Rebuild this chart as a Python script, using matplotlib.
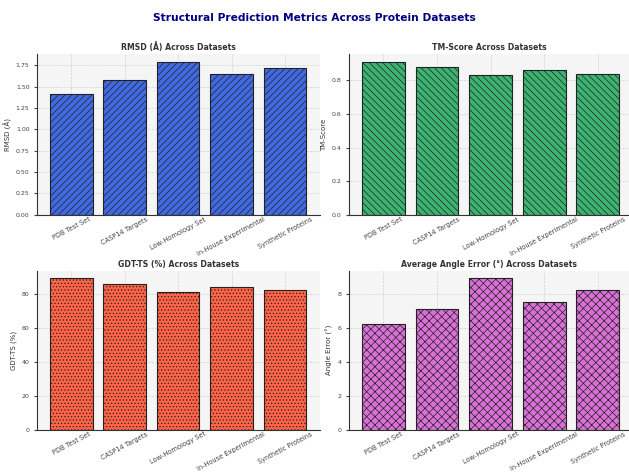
import numpy as np
import matplotlib
matplotlib.use("Agg")
import matplotlib.pyplot as plt

datasets = ["PDB Test Set", "CASP14 Targets", "Low-Homology Set",
            "In-House Experimental", "Synthetic Proteins"]
rmsd = [1.42, 1.58, 1.79, 1.65, 1.72]
tm_score = [0.91, 0.88, 0.83, 0.86, 0.84]
gdt_ts = [89.2, 85.7, 81.5, 84.0, 82.5]
angle_err = [6.2, 7.1, 8.9, 7.5, 8.2]

panels = [
    (rmsd, "RMSD (Å) Across Datasets", "RMSD (Å)", "royalblue", "/////"),
    (tm_score, "TM-Score Across Datasets", "TM-Score", "mediumseagreen", "\\\\\\\\\\"),
    (gdt_ts, "GDT-TS (%) Across Datasets", "GDT-TS (%)", "tomato", "....."),
    (angle_err, "Average Angle Error (°) Across Datasets", "Angle Error (°)", "orchid", "xxxx"),
]

# axes boxes [left, bottom, width, height] in figure fractions
boxes = [
    [0.059, 0.545, 0.450, 0.340],
    [0.555, 0.545, 0.445, 0.340],
    [0.059, 0.090, 0.450, 0.336],
    [0.555, 0.090, 0.445, 0.336],
]

plt.rcParams["hatch.linewidth"] = 0.5
fig = plt.figure(figsize=(6.29, 4.72), dpi=100)
fig.suptitle("Structural Prediction Metrics Across Protein Datasets",
             fontsize=7.7, fontweight="bold", color="navy", y=0.972)

x = np.arange(len(datasets))
for box, (vals, title, ylabel, color, hatch) in zip(boxes, panels):
    ax = fig.add_axes(box)
    ax.set_facecolor("#f5f5f5")
    ax.grid(True, linestyle="--", linewidth=0.5, color="#d3d3d3")
    ax.set_axisbelow(True)
    ax.bar(x, vals, width=0.8, color=color, edgecolor="#222222",
           linewidth=0.8, hatch=hatch)
    ax.set_title(title, fontsize=5.6, fontweight="bold", color="#333333", pad=3)
    ax.set_ylabel(ylabel, fontsize=5, color="#333333", labelpad=3)
    ax.set_xticks(x)
    ax.set_xticklabels(datasets, rotation=28, ha="center", fontsize=4.8, color="#444444")
    ax.tick_params(axis="y", labelsize=4.5, colors="#444444", length=2)
    ax.tick_params(axis="x", length=0, pad=1)
    for s in ("top", "right"):
        ax.spines[s].set_visible(False)
    for s in ("left", "bottom"):
        ax.spines[s].set_color("#333333")
        ax.spines[s].set_linewidth(0.8)
    right = 4.66 if box[0] < 0.5 else 4.58
    ax.set_xlim(-0.64, right)

fig.savefig("out.png", dpi=100)
